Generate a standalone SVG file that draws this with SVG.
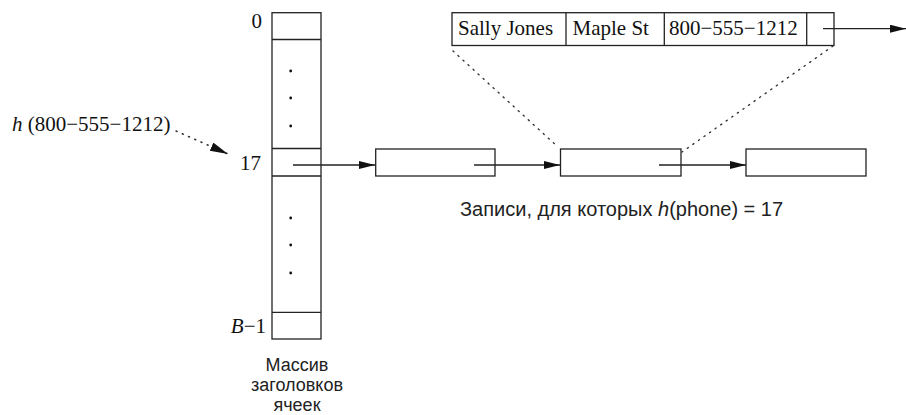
<svg xmlns="http://www.w3.org/2000/svg" width="906" height="415" viewBox="0 0 906 415">
<defs>
<style>
.box{fill:#fff;stroke:#222;stroke-width:1.3}
.ln{stroke:#222;stroke-width:1.3;fill:none}
.dot{stroke:#333;stroke-width:1.4;fill:none;stroke-dasharray:1.2 5.6;stroke-linecap:round}
.serif{font-family:"Liberation Serif","Times New Roman",serif;font-size:21px;fill:#111}
.sans{font-family:"Liberation Sans",Arial,sans-serif;font-size:20px;fill:#222}
.lbl{font-family:"Liberation Sans",Arial,sans-serif;font-size:18px;fill:#222}
.pt{fill:#111}
</style>
<marker id="ah" markerUnits="userSpaceOnUse" markerWidth="18" markerHeight="10" refX="16" refY="4" orient="auto">
<path d="M0,0 L16,4 L0,8 Z" fill="#111"/>
</marker>
<marker id="ahd" markerUnits="userSpaceOnUse" markerWidth="20" markerHeight="12" refX="18" refY="4.5" orient="auto">
<path d="M0,0 L18,4.5 L0,9 Z" fill="#111"/>
</marker>
</defs>
<rect width="906" height="415" fill="#fff"/>

<g id="bucket-array">
<rect class="box" x="272" y="12.7" width="49" height="326.3"/>
<line class="ln" x1="272" y1="39.5" x2="321" y2="39.5"/>
<line class="ln" x1="272" y1="148.5" x2="321" y2="148.5"/>
<line class="ln" x1="272" y1="176" x2="321" y2="176"/>
<line class="ln" x1="272" y1="312.3" x2="321" y2="312.3"/>
<circle class="pt" cx="290.7" cy="71" r="1.4"/>
<circle class="pt" cx="290.7" cy="98" r="1.4"/>
<circle class="pt" cx="290.7" cy="126" r="1.4"/>
<circle class="pt" cx="290.7" cy="218" r="1.4"/>
<circle class="pt" cx="290.7" cy="245" r="1.4"/>
<circle class="pt" cx="290.7" cy="273" r="1.4"/>
<text class="serif" x="262" y="28" text-anchor="end">0</text>
<text class="serif" x="261" y="170" text-anchor="end">17</text>
<text class="serif" x="266" y="333" text-anchor="end"><tspan font-style="italic">B</tspan>−1</text>
<text class="lbl" x="297" y="370.5" text-anchor="middle">Массив</text>
<text class="lbl" x="297" y="391" text-anchor="middle">заголовков</text>
<text class="lbl" x="297" y="411" text-anchor="middle">ячеек</text>
</g>

<g id="hash-label">
<text class="serif" x="12" y="131"><tspan font-style="italic">h</tspan> (800−555−1212)</text>
</g>

<g id="record-1">
<rect class="box" x="375.7" y="149" width="119.3" height="27"/>
</g>
<g id="record-2">
<rect class="box" x="560.5" y="149" width="120.5" height="27"/>
</g>
<g id="record-3">
<rect class="box" x="746" y="149" width="120" height="27"/>
</g>

<g id="record-detail">
<rect class="box" x="452" y="12.7" width="382" height="32.8"/>
<line class="ln" x1="566" y1="12.7" x2="566" y2="45.5"/>
<line class="ln" x1="664.3" y1="12.7" x2="664.3" y2="45.5"/>
<line class="ln" x1="806.7" y1="12.7" x2="806.7" y2="45.5"/>
<text class="serif" x="458" y="35">Sally Jones</text>
<text class="serif" x="572.5" y="35">Maple St</text>
<text class="serif" x="669" y="35">800−555−1212</text>
</g>

<g id="caption">
<text class="sans" x="460" y="216">Записи, для которых <tspan font-style="italic">h</tspan>(phone) = 17</text>
</g>

<g id="connectors">
<line class="dot" x1="176" y1="131" x2="228" y2="154" marker-end="url(#ahd)"/>
<line class="ln" x1="293" y1="165" x2="375" y2="165" marker-end="url(#ah)"/>
<line class="ln" x1="474" y1="165" x2="560" y2="165" marker-end="url(#ah)"/>
<line class="ln" x1="659" y1="165" x2="746" y2="165" marker-end="url(#ah)"/>
<line class="ln" x1="823" y1="28.7" x2="906" y2="28.7" marker-end="url(#ah)"/>
<line class="dot" x1="453" y1="51" x2="558" y2="147"/>
<line class="dot" x1="833" y1="46" x2="682" y2="152"/>
</g>
</svg>
